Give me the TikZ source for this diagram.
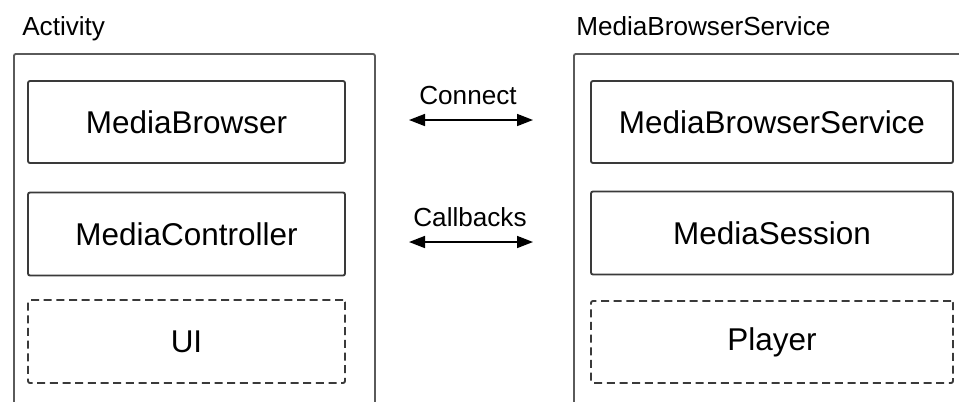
\documentclass[tikz,border=0pt]{standalone}
\usepackage{fontspec}
\setmainfont{Liberation Sans}
\usetikzlibrary{arrows.meta}
\definecolor{outerline}{HTML}{5A5A5A}
\definecolor{innerline}{HTML}{3A3A3A}
\begin{document}
\begin{tikzpicture}[x=0.75pt,y=-0.75pt,
  container/.style={draw=outerline,line width=1.4pt,rounded corners=1.5pt,inner sep=0pt,anchor=north west},
  part/.style={draw=innerline,line width=1.4pt,rounded corners=1.5pt,inner sep=0pt,
    font=\fontsize{23.6}{28}\selectfont},
  optional/.style={part,dashed,dash pattern=on 6pt off 3.5pt},
  grouplabel/.style={font=\fontsize{19.6}{24}\selectfont,anchor=base west,inner sep=0pt},
  msglabel/.style={font=\fontsize{19.6}{24}\selectfont,anchor=base,inner sep=0pt},
  msg/.style={line width=1.2pt,{Triangle[length=12pt,width=9pt]}-{Triangle[length=12pt,width=9pt]}}]
\useasboundingbox (0,0) rectangle (959,401);
\clip (0,0) rectangle (959,401);

% containers (open at the bottom / right edge)
\node[container,minimum width=361*0.75pt,minimum height=380*0.75pt] (act) at (13,53) {};
\node[container,minimum width=420*0.75pt,minimum height=380*0.75pt] (svc) at (573,53) {};
\node[grouplabel] (actlbl) at (22,35) {Activity};
\node[grouplabel] (svclbl) at (576,35) {MediaBrowserService};

% activity side
\node[part,minimum width=317*0.75pt,minimum height=82*0.75pt] (browser) at (186.5,122) {MediaBrowser};
\node[part,minimum width=317*0.75pt,minimum height=83*0.75pt] (controller) at (186.5,234) {MediaController};
\node[optional,minimum width=317*0.75pt,minimum height=83*0.75pt] (ui) at (186.5,341.5) {UI};

% service side
\node[part,minimum width=362*0.75pt,minimum height=82*0.75pt] (service) at (772,122) {MediaBrowserService};
\node[part,minimum width=362*0.75pt,minimum height=83*0.75pt] (session) at (772,233) {MediaSession};
\node[optional,minimum width=362*0.75pt,minimum height=82*0.75pt] (player) at (772,342) {Player};

% messages between the two sides
\coordinate (connL) at (409,120);
\coordinate (connR) at (533,120);
\coordinate (cbL) at (409,242);
\coordinate (cbR) at (533,242);
\node[msglabel] (connlbl) at (468,104) {Connect};
\node[msglabel] (cblbl) at (470,226) {Callbacks};
\draw[msg] (connL) -- (connR);
\draw[msg] (cbL) -- (cbR);
\end{tikzpicture}
\end{document}
